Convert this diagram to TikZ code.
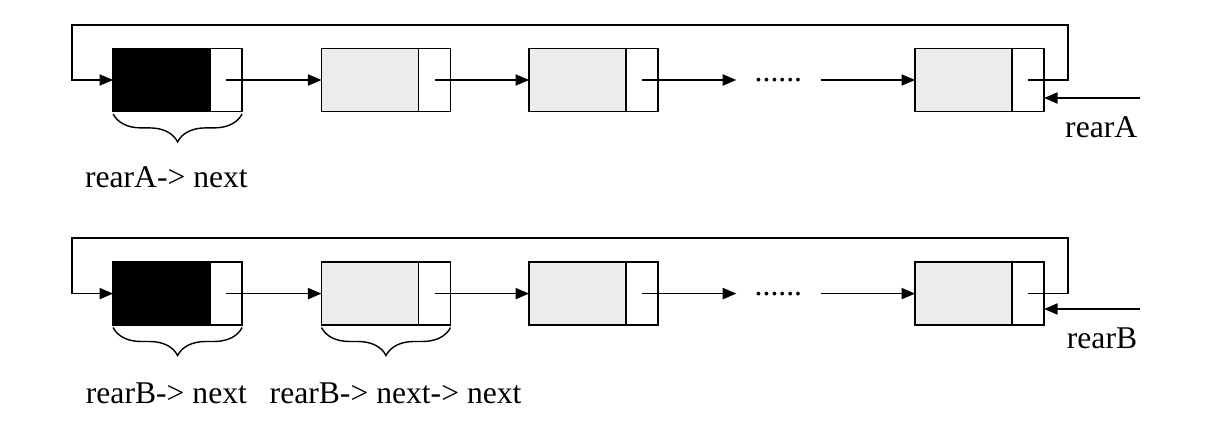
\documentclass[tikz,border=0pt]{standalone}
\usepackage{fontspec}
\setmainfont{Liberation Serif}
\usetikzlibrary{positioning,arrows.meta,decorations.pathreplacing}

\begin{document}
\begin{tikzpicture}[line width=1.1pt,
  dat/.style={draw, rectangle, fill=gray!15, minimum width=2.425cm,
              minimum height=1.575cm, outer sep=0pt, inner sep=0pt},
  head/.style={dat, fill=black},
  ptr/.style={draw, rectangle, minimum width=0.8cm, minimum height=1.575cm,
              outer sep=0pt, inner sep=0pt},
  lbl/.style={font=\fontsize{22.5}{27}\selectfont, inner sep=0pt},
  dots/.style={lbl, inner xsep=0.44cm},
  br/.style={decorate, decoration={brace, mirror, amplitude=0.7cm, raise=0.06cm},
             line width=1pt},
  a/.style={-{Triangle[length=0.34cm, width=0.28cm]}}]

  \useasboundingbox (0,0) rectangle (30.2,-11.175);

  % list A
  \node[head] (d1a) at (4.04,-2.0)  {};
  \node[ptr, right=0pt of d1a] (p1a) {};
  \node[dat]  (d2a) at (9.25,-2.0)  {};
  \node[ptr, right=0pt of d2a] (p2a) {};
  \node[dat]  (d3a) at (14.44,-2.0) {};
  \node[ptr, right=0pt of d3a] (p3a) {};
  \node[dots] (dotsA) at (19.46,-2.0) {......};
  \node[dat]  (d4a) at (24.09,-2.0) {};
  \node[ptr, right=0pt of d4a] (p4a) {};
  \node[lbl]  (rearA) at (27.53,-3.175) {rearA};
  \node[lbl]  (nextA) at (4.16,-4.425)  {rearA-> next};
  \coordinate (cornA) at (26.7,-0.625);
  \coordinate (loopA) at (1.8,-0.625);
  \coordinate (inA)   at (28.5,-2.45);

  \draw[a] (p1a.center) -- (d2a.west);
  \draw[a] (p2a.center) -- (d3a.west);
  \draw[a] (p3a.center) -- (dotsA.west);
  \draw[a] (dotsA.east) -- (d4a.west);
  \draw[a] (p4a.center) -| (cornA) -- (loopA) |- (d1a.west);
  \draw[a] (inA) -- (inA -| p4a.east);
  \draw[br] (d1a.south west) -- (p1a.south east);

  % list B
  \node[head] (d1b) at (4.04,-7.34)  {};
  \node[ptr, right=0pt of d1b] (p1b) {};
  \node[dat]  (d2b) at (9.25,-7.34)  {};
  \node[ptr, right=0pt of d2b] (p2b) {};
  \node[dat]  (d3b) at (14.44,-7.34) {};
  \node[ptr, right=0pt of d3b] (p3b) {};
  \node[dots] (dotsB) at (19.46,-7.34) {......};
  \node[dat]  (d4b) at (24.09,-7.34) {};
  \node[ptr, right=0pt of d4b] (p4b) {};
  \node[lbl]  (rearB) at (27.55,-8.45) {rearB};
  \node[lbl]  (nextB) at (4.16,-9.83)  {rearB-> next};
  \node[lbl]  (nnextB) at (9.89,-9.83) {rearB-> next-> next};
  \coordinate (cornB) at (26.7,-5.95);
  \coordinate (loopB) at (1.8,-5.95);
  \coordinate (inB)   at (28.5,-7.725);

  \draw[a] (p1b.center) -- (d2b.west);
  \draw[a] (p2b.center) -- (d3b.west);
  \draw[a] (p3b.center) -- (dotsB.west);
  \draw[a] (dotsB.east) -- (d4b.west);
  \draw[a] (p4b.center) -| (cornB) -- (loopB) |- (d1b.west);
  \draw[a] (inB) -- (inB -| p4b.east);
  \draw[br] (d1b.south west) -- (p1b.south east);
  \draw[br] (d2b.south west) -- (p2b.south east);

\end{tikzpicture}
\end{document}
